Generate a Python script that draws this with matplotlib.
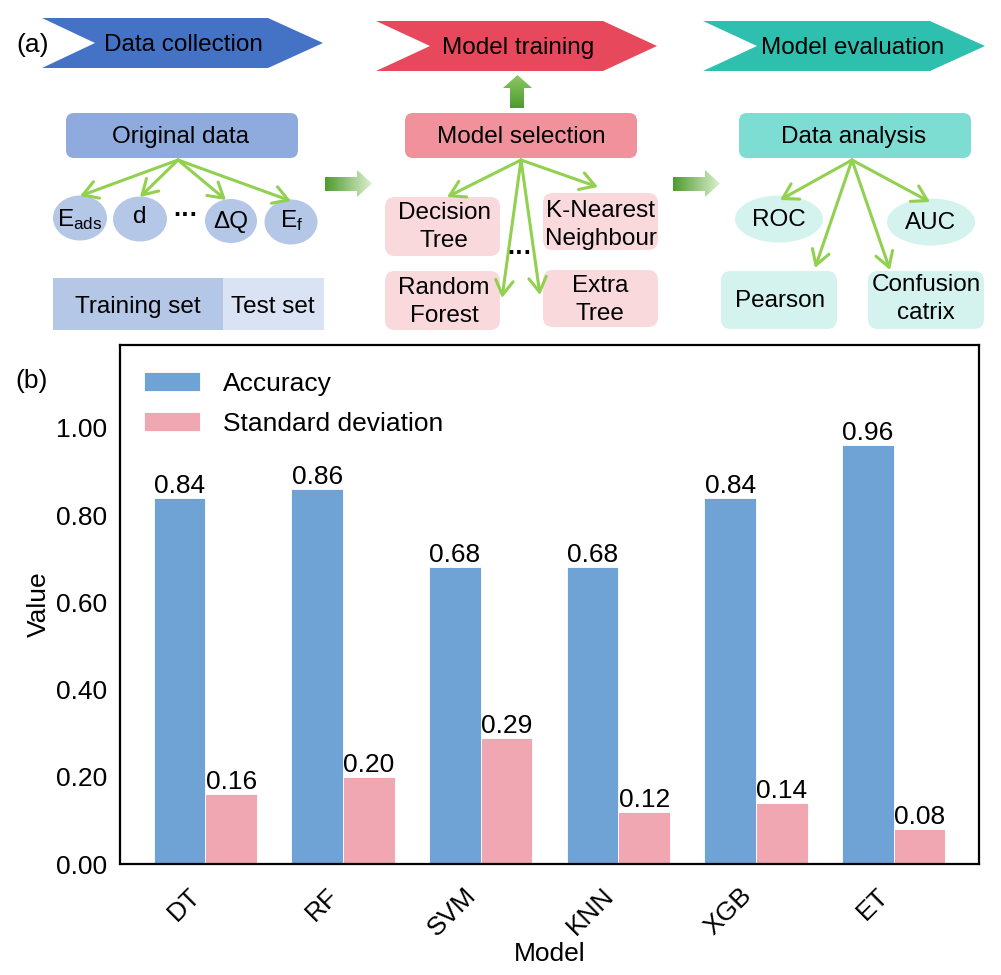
import matplotlib
matplotlib.use('Agg')
import matplotlib.pyplot as plt
import numpy as np
from matplotlib.patches import Polygon, FancyBboxPatch, Ellipse, Rectangle, FancyArrowPatch
from matplotlib.colors import to_rgb

plt.rcParams['font.family'] = ['Liberation Sans', 'DejaVu Sans']

# ---------------- data ----------------
models = ['DT', 'RF', 'SVM', 'KNN', 'XGB', 'ET']
accuracy = [0.84, 0.86, 0.68, 0.68, 0.84, 0.96]
std_dev = [0.16, 0.20, 0.29, 0.12, 0.14, 0.08]
series_labels = ['Accuracy', 'Standard deviation']
yticks = [0.0, 0.2, 0.4, 0.6, 0.8, 1.0]

BLUE = '#6FA3D6'
PINK = '#F0A7B1'
GREEN = '#92D050'

W, H = 1001, 975
fig = plt.figure(figsize=(W / 100, H / 100), dpi=100)

# ---------------- panel (a): workflow diagram ----------------
ax0 = fig.add_axes([0, 0, 1, 1])
ax0.set_xlim(0, W)
ax0.set_ylim(H, 0)
ax0.axis('off')

FS = 17.5
DY = 2


def chevron(x0, x1, y0, y1, notch, tip, color, text, tx):
    ym = (y0 + y1) / 2
    verts = [(x0, y0), (tip, y0), (x1, ym), (tip, y1), (x0, y1), (notch, ym)]
    ax0.add_patch(Polygon(verts, closed=True, fc=color, ec='none'))
    ax0.text(tx, ym + DY, text, ha='center', va='center', fontsize=FS)


def rbox(x0, y0, x1, y1, color, r=8):
    ax0.add_patch(FancyBboxPatch((x0, y0), x1 - x0, y1 - y0,
                                 boxstyle=f'round,pad=0,rounding_size={r}',
                                 fc=color, ec='none'))


def garrow(p0, p1):
    ax0.add_patch(FancyArrowPatch(p0, p1, arrowstyle='->,head_length=0.75,head_width=0.45',
                                  mutation_scale=14, color=GREEN, lw=2.2,
                                  shrinkA=0, shrinkB=0))


def grad_arrow(verts, c0, c1, vertical=False):
    poly = Polygon(verts, closed=True, fc='none', ec='none')
    ax0.add_patch(poly)
    xs = [v[0] for v in verts]
    ys = [v[1] for v in verts]
    t = np.linspace(0, 1, 256)
    cols = (1 - t)[:, None] * np.array(to_rgb(c0)) + t[:, None] * np.array(to_rgb(c1))
    img = cols[:, None, :] if vertical else cols[None, :, :]
    im = ax0.imshow(img, extent=(min(xs), max(xs), max(ys), min(ys)),
                    aspect='auto', interpolation='bilinear')
    im.set_clip_path(poly)


def label(x, y, s, fs=FS, **kw):
    ax0.text(x, y + DY, s, ha='center', va='center', fontsize=fs, linespacing=1.3, **kw)


ax0.text(33, 45, '(a)', ha='center', va='center', fontsize=19)
ax0.text(32, 381, '(b)', ha='center', va='center', fontsize=19)

chevron(42, 323, 18, 68, 95, 268, '#4472C4', 'Data collection', 183)
chevron(376, 657, 21, 71, 430, 603, '#E8485C', 'Model training', 518)
chevron(703, 985, 21, 71, 757, 930, '#2FBFAE', 'Model evaluation', 853)

# column 1
rbox(66, 113, 298, 158, '#8FAADC')
label(181, 135, 'Original data')
for (cx, cy, w, h) in [(80, 218, 54, 45), (140, 219, 54, 45), (231, 221, 52, 44), (291, 222, 53, 45)]:
    ax0.add_patch(Ellipse((cx, cy), w, h, fc='#B4C7E7', ec='none'))
label(80, 218, r'$\mathregular{E_{ads}}$')
label(140, 215, 'd')
label(186, 214, '···', fs=18, fontweight='bold')
label(231, 220, 'ΔQ')
label(292, 219, r'$\mathregular{E_f}$')
for p in [(80, 196), (140, 197), (226, 200), (291, 201)]:
    garrow((178, 160), p)
ax0.add_patch(Rectangle((53, 278), 170, 52, fc='#B4C7E7', ec='none'))
ax0.add_patch(Rectangle((223, 278), 101, 52, fc='#DAE3F3', ec='none'))
label(138, 305, 'Training set')
label(273, 305, 'Test set')

# arrows between columns
grad_arrow([(325, 177), (357, 177), (357, 170), (372, 183.5), (357, 197), (357, 191), (325, 191)],
           '#4E9A2E', '#DCF0CF')
grad_arrow([(673, 177), (705, 177), (705, 170), (720, 183.5), (705, 197), (705, 191), (673, 191)],
           '#4E9A2E', '#DCF0CF')
grad_arrow([(517.5, 75), (532, 88), (524, 88), (524, 108), (510, 108), (510, 88), (503, 88)],
           '#8CC864', '#4E9A2E', vertical=True)

# column 2
rbox(405, 113, 637, 158, '#F0919B')
label(521, 135, 'Model selection')
for (x0, y0, x1, y1) in [(385, 197, 500, 256), (385, 271, 500, 330), (543, 193, 658, 250), (543, 270, 658, 327)]:
    rbox(x0, y0, x1, y1, '#FAD9DD', r=10)
label(444, 225, 'Decision\nTree')
label(444, 300, 'Random\nForest')
label(601, 223, 'K-Nearest\nNeighbour')
label(600, 298, 'Extra\nTree')
label(520, 252, '···', fs=18, fontweight='bold')
for p in [(447, 197), (598, 187), (502, 298), (540, 295)]:
    garrow((521, 160), p)

# column 3
rbox(739, 113, 971, 158, '#7EDDD3')
label(854, 135, 'Data analysis')
ax0.add_patch(Ellipse((779, 219), 88, 47, fc='#D4F3EF', ec='none'))
ax0.add_patch(Ellipse((931, 222), 88, 47, fc='#D4F3EF', ec='none'))
rbox(721, 271, 837, 329, '#D4F3EF', r=10)
rbox(868, 271, 984, 329, '#D4F3EF', r=10)
label(779, 218, 'ROC')
label(931, 221, 'AUC')
label(780, 299, 'Pearson')
label(926, 297, 'Confusion\ncatrix')
for p in [(780, 200), (930, 202), (815, 268), (890, 270)]:
    garrow((852, 160), p)

ax0.set_xlim(0, W)
ax0.set_ylim(H, 0)

# ---------------- panel (b): bar chart ----------------
ax = fig.add_axes([120 / W, (H - 864) / H, (979 - 120) / W, (864 - 345) / H])
x = np.arange(len(models))
bw = 0.375
b1 = ax.bar(x - bw / 2, accuracy, bw, color=BLUE, edgecolor='white', linewidth=0.6, label=series_labels[0])
b2 = ax.bar(x + bw / 2, std_dev, bw, color=PINK, edgecolor='white', linewidth=0.6, label=series_labels[1])
ax.bar_label(b1, fmt='%.2f', padding=0, fontsize=19)
ax.bar_label(b2, fmt='%.2f', padding=0, fontsize=19)

ax.set_xlim(-0.62, 5.62)
ax.set_ylim(0, 1.19)
ax.set_yticks(yticks)
ax.set_yticklabels([f'{v:.2f}' for v in yticks])
ax.set_xticks(x)
ax.set_xticklabels(models, rotation=45, ha='right')
ax.tick_params(axis='both', length=0, labelsize=19)
ax.tick_params(axis='y', pad=9)
ax.tick_params(axis='x', pad=14)
for s in ax.spines.values():
    s.set_linewidth(1.6)
    s.set_color('black')
ax.set_ylabel('Value', fontsize=19, labelpad=4)
ax.set_xlabel('Model', fontsize=19, labelpad=1)

ax.legend(loc='upper left', bbox_to_anchor=(0.028, 0.948), frameon=False, fontsize=19,
          borderpad=0, borderaxespad=0, handlelength=2.12, handleheight=0.72,
          handletextpad=0.87, labelspacing=0.6)

fig.savefig('out.png', dpi=100)
